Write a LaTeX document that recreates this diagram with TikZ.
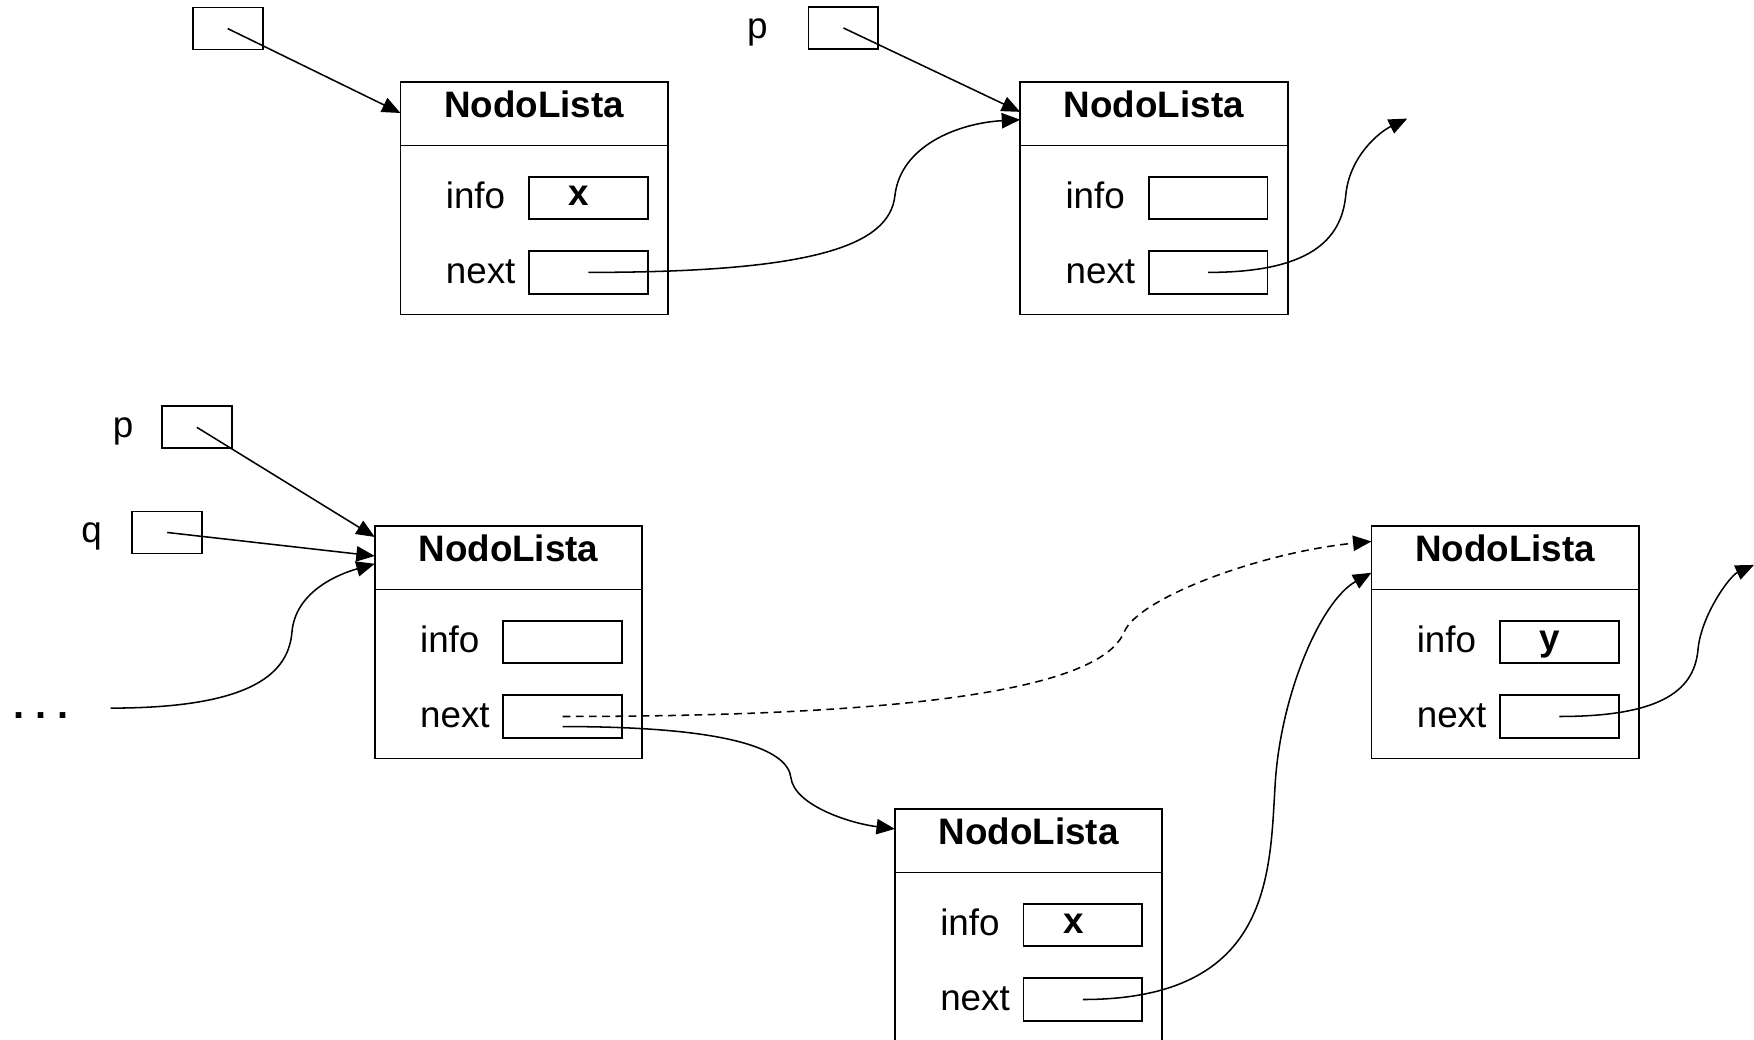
\documentclass[tikz,border=0pt]{standalone}
\usepackage{fontspec}
\setmainfont{Liberation Sans}
\usetikzlibrary{arrows.meta,calc}

\tikzset{
  listbox/.style={draw, line width=0.6pt, anchor=north west, inner sep=0pt, outer sep=0pt,
    minimum width=3.064cm, minimum height=2.667cm},
  fieldbox/.style={draw, line width=0.6pt, inner sep=0pt, outer sep=0pt,
    minimum width=1.359cm, minimum height=0.487cm, font=\fontsize{12}{14}\selectfont\bfseries,
    text height=0.52em, text depth=0pt},
  ptrbox/.style={draw, line width=0.6pt, inner sep=0pt, minimum width=0.801cm, minimum height=0.481cm},
  varlabel/.style={inner sep=0pt, text height=0.52em, text depth=0pt},
  link/.style={line width=0.5pt, -{Triangle[length=6pt,width=5pt]}},
}

\begin{document}
\begin{tikzpicture}[x=0.01282cm, y=0.01282cm, font=\fontsize{12}{14}\selectfont]
\clip (0,0) rectangle (1568,-929);
% list nodes: name / left / top / info value
\foreach \n/\x/\y/\v in {n1/358/73/x, n2/912/73/{}, n3/335/470/{}, n4/800/723/x, n5/1226/470/y} {
  \node[listbox] (\n) at (\x,-\y) {};
  \draw[line width=0.6pt] ($(\n.north west)+(0,-57)$) -- ($(\n.north east)+(0,-57)$);
  \node[font=\fontsize{12}{14}\selectfont\bfseries, anchor=base, inner sep=0pt] (\n-title)
    at ($(\n.north west)+(119.5,-32)$) {NodoLista};
  \node[anchor=base west, inner sep=0pt] (\n-infolbl) at ($(\n.north west)+(40,-113)$) {info};
  \node[anchor=base west, inner sep=0pt] (\n-nextlbl) at ($(\n.north west)+(40,-180)$) {next};
  \node[fieldbox] (\n-info) at ($(\n.north west)+(168,-104)$) {\v\kern6pt};
  \node[fieldbox] (\n-next) at ($(\n.north west)+(168,-170.5)$) {};
}

% pointer variables
\node[ptrbox] (ptr0) at (203.5,-25.5) {};
\node[ptrbox] (ptr1) at (754,-25) {};
\node[varlabel] (lblp1) at (677,-27) {p};
\node[ptrbox] (ptr2) at (176,-382) {};
\node[varlabel] (lblp2) at (110,-384) {p};
\node[ptrbox] (ptr3) at (149.5,-476) {};
\node[varlabel] (lblq) at (82,-478) {q};
\node[font=\fontsize{13}{15}\selectfont\bfseries, inner sep=0pt] (dots) at (37,-640) {.~.~.};

\coordinate (dots-end) at (99,-633);
\coordinate (end1) at (1258,-106);
\coordinate (end2) at (1568,-505);

% top list
\draw[link] (ptr0.center) -- ($(n1.north west)+(0,-28)$);
\draw[link] (ptr1.center) -- ($(n2.north west)+(0,-27)$);
\draw[link] (n1-next.center) .. controls +(200,0) and +(-5,-45) .. (800,-175)
  .. controls +(5,45) and +(-55,-3) .. ($(n2.north west)+(0,-34)$);
\draw[link] (n2-next.center) .. controls +(90,0) and +(-4,-40) .. (1203,-175)
  .. controls +(3,35) and +(-25,-12) .. (end1);

% bottom list
\draw[link] (ptr2.center) -- ($(n3.north west)+(0,-10)$);
\draw[link] (ptr3.center) -- ($(n3.north west)+(0,-27)$);
\draw[link] (dots-end) .. controls +(130,0) and +(-3,-35) .. (261,-565)
  .. controls +(3,35) and +(-35,-10) .. ($(n3.north west)+(0,-34)$);
\draw[link, dash pattern=on 2.5pt off 1.8pt] (n3-next.center) .. controls +(400,0) and +(-15,-35) .. (1005,-565)
  .. controls +(12,30) and +(-100,-10) .. ($(n5.north west)+(0,-14)$);
\draw[link] ($(n3-next.center)+(0,-9)$) .. controls +(150,0) and +(-3,25) .. (707,-695)
  .. controls +(3,-25) and +(-40,5) .. ($(n4.north west)+(0,-18)$);
\draw[link] (n4-next.center) .. controls +(170,0) and +(-5,-80) .. (1140,-700)
  .. controls +(5,80) and +(-45,-25) .. ($(n5.north west)+(0,-42)$);
\draw[link] (n5-next.center) .. controls +(95,0) and +(-3,-35) .. (1518,-580)
  .. controls +(3,30) and +(-22,-10) .. (end2);
\end{tikzpicture}
\end{document}
